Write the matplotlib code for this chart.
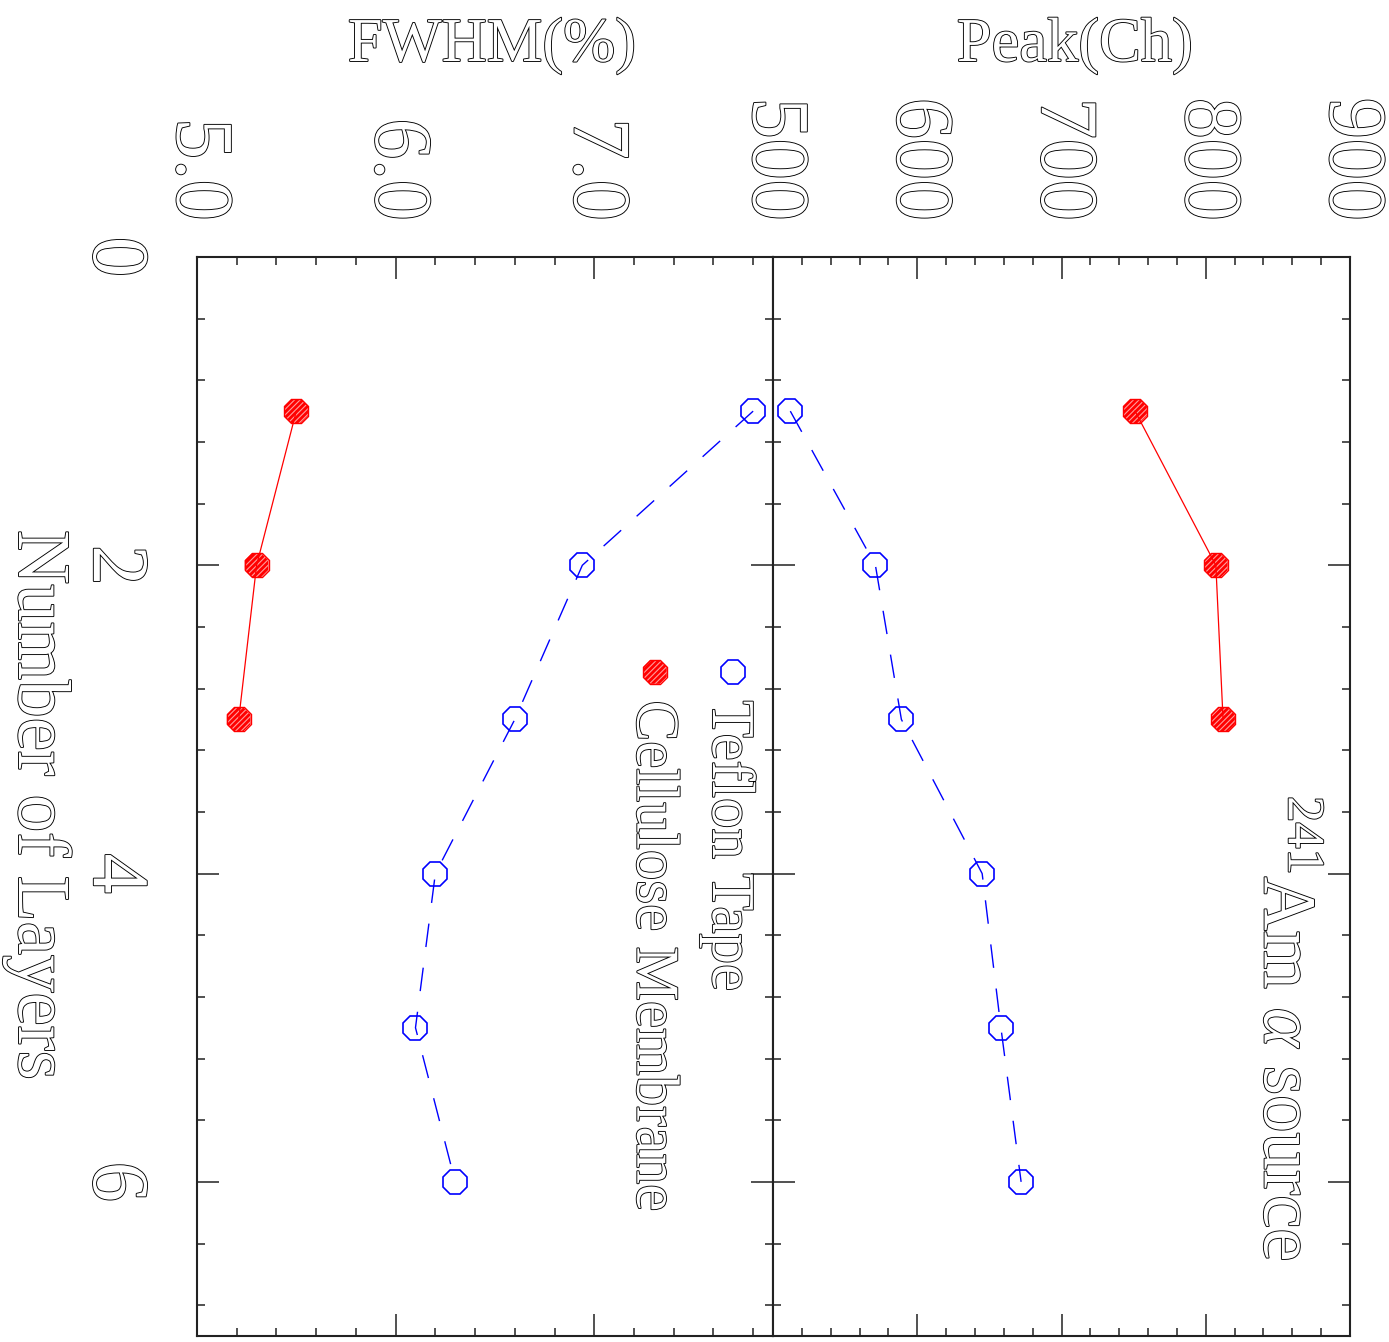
import matplotlib
matplotlib.use("Agg")
import matplotlib.pyplot as plt
from matplotlib import patheffects as pe
from matplotlib.ticker import MultipleLocator, FormatStrFormatter

# values (number of wrapping layers vs. response)
layers = [1, 2, 3, 4, 5, 6]
peak_teflon = [512, 571, 589, 645, 658, 672]
fwhm_teflon = [7.80, 6.94, 6.60, 6.20, 6.10, 6.30]

layers_cellulose = [1, 2, 3]
peak_cellulose = [751, 807, 812]
fwhm_cellulose = [5.50, 5.30, 5.21]

series_names = ["Teflon Tape", "Cellulose Membrane"]
source_label = r"$^{241}$Am $\alpha$ source"

plt.rcParams['font.family'] = ['Liberation Serif', 'DejaVu Serif']
plt.rcParams['mathtext.fontset'] = 'custom'
plt.rcParams['mathtext.rm'] = 'Liberation Serif'
plt.rcParams['mathtext.it'] = 'Liberation Serif:italic'
plt.rcParams['hatch.color'] = '#ff9c9c'
plt.rcParams['hatch.linewidth'] = 0.8

W, H = 1389, 1342
fig = plt.figure(figsize=(W / 100, H / 100), dpi=100)

# the whole chart is drawn turned by 90 degrees: layers run downwards
bottom = 1 - 1336 / H
height = (1336 - 257) / H
ax_f = fig.add_axes([197 / W, bottom, 576 / W, height])
ax_p = fig.add_axes([773 / W, bottom, 577 / W, height], sharey=ax_f)

frame = '#222222'
ms = 18.5
# hollow, thin-outlined glyphs (like the double-stroke plotter font)
hollow = [pe.Stroke(linewidth=1.3, foreground='black'), pe.Normal()]


def draw_pair(ax, x_tef, x_cel):
    ax.plot(x_tef, layers, color='blue', lw=1.0, dashes=(17, 15),
            marker='8', ms=ms, mfc='none', mec='blue', mew=1.2, zorder=3)
    ax.scatter(x_cel, layers_cellulose, marker='8', s=ms ** 2, facecolor='red',
               edgecolor='none', hatch='//////', zorder=4)
    ax.plot(x_cel, layers_cellulose, color='red', lw=0.9,
            marker='8', ms=ms, mfc='none', mec='red', mew=1.0, zorder=5)


draw_pair(ax_f, fwhm_teflon, fwhm_cellulose)
draw_pair(ax_p, peak_teflon, peak_cellulose)

ax_f.set_xlim(5.0, 7.9)
ax_p.set_xlim(500, 900)
ax_f.set_ylim(7, 0)

ax_f.xaxis.set_major_locator(MultipleLocator(1.0))
ax_f.xaxis.set_minor_locator(MultipleLocator(0.2))
ax_f.xaxis.set_major_formatter(FormatStrFormatter('%.1f'))
ax_p.xaxis.set_major_locator(MultipleLocator(100))
ax_p.xaxis.set_minor_locator(MultipleLocator(20))
ax_p.xaxis.set_major_formatter(FormatStrFormatter('%d'))

for ax in (ax_f, ax_p):
    ax.yaxis.set_major_locator(MultipleLocator(2))
    ax.yaxis.set_minor_locator(MultipleLocator(0.4))
    ax.tick_params(which='both', direction='in', top=True, bottom=True,
                   left=True, right=True, width=1.1, color=frame)
    ax.tick_params(which='major', length=16)
    ax.tick_params(which='minor', length=6)
    ax.tick_params(axis='x', labelbottom=False, labeltop=True, labelcolor='white',
                   labelsize=59, pad=26, labelrotation=-90)
    for s in ax.spines.values():
        s.set_linewidth(1.5)
        s.set_color(frame)

ax_f.tick_params(axis='y', labelleft=True, labelsize=58, pad=34,
                 labelrotation=-90, labelcolor='white')
ax_p.tick_params(axis='y', labelleft=False)
plt.setp(ax_f.get_yticklabels(), va='center', path_effects=hollow)
plt.setp(ax_f.get_xticklabels(), path_effects=hollow)
plt.setp(ax_p.get_xticklabels(), path_effects=hollow)

# axis titles
txt = dict(color='white', path_effects=hollow)
fig.text(492 / W, 1 - 46 / H, "FWHM(%)", ha='center', va='center', fontsize=45, **txt)
fig.text(1075 / W, 1 - 46 / H, "Peak(Ch)", ha='center', va='center', fontsize=45, **txt)
fig.text(37 / W, 1 - 805 / H, "Number of Layers", rotation=-90,
         ha='center', va='center', fontsize=54, **txt)

# hand-placed legend, rotated like the rest
ax_f.plot([0.931], [0.6154], transform=ax_f.transAxes, ls='none', marker='8',
          ms=ms, mfc='none', mec='blue', mew=1.2, clip_on=False)
ax_f.scatter([0.795], [0.6154], transform=ax_f.transAxes, marker='8', s=ms ** 2,
             facecolor='red', edgecolor='none', hatch='//////', clip_on=False)
ax_f.plot([0.795], [0.6154], transform=ax_f.transAxes, ls='none', marker='8',
          ms=ms, mfc='none', mec='red', mew=1.0, clip_on=False)
ax_f.text(0.922, 0.589, series_names[0], transform=ax_f.transAxes,
          rotation=-90, ha='center', va='top', fontsize=44, **txt)
ax_f.text(0.790, 0.589, series_names[1], transform=ax_f.transAxes,
          rotation=-90, ha='center', va='top', fontsize=44, **txt)

ax_p.text(0.882, 0.501, source_label, transform=ax_p.transAxes,
          rotation=-90, ha='center', va='top', fontsize=54, **txt)

fig.savefig('out.png', dpi=100)
